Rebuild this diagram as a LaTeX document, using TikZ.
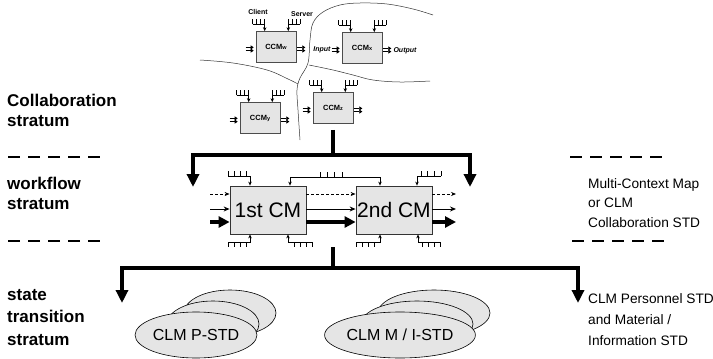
\documentclass[tikz,border=0pt]{standalone}
\usepackage{fontspec}
\setmainfont{Liberation Sans}
\usetikzlibrary{arrows.meta,calc,shapes.geometric}

\begin{document}
\begin{tikzpicture}[x=1pt,y=-1pt,
  stratlbl/.style={font=\bfseries\fontsize{17}{19.5}\selectfont, align=left, anchor=north west, inner sep=0},
  sidelbl/.style={font=\fontsize{13.7}{19.5}\selectfont, align=left, anchor=north west, inner sep=0},
  divider/.style={line width=1.8pt, dash pattern=on 12pt off 8pt},
  trunk/.style={line width=3.4pt},
  trunkarrow/.style={line width=3.4pt, -{Triangle[length=13pt,width=12pt]}},
  cmbox/.style={draw=black!80, line width=0.8pt, fill=gray!20, minimum width=76pt, minimum height=48pt, inner sep=0, font=\fontsize{21}{21}\selectfont},
  ccmbox/.style={draw=black!70, line width=0.6pt, fill=gray!20, minimum width=40pt, minimum height=31pt, inner sep=0, font=\bfseries\fontsize{7.5}{8}\selectfont},
  pin/.style={line width=0.6pt},
  pinarrow/.style={line width=0.7pt, -{Stealth[length=4pt,width=3.5pt]}},
  icon/.style={line width=1.3pt, -{Triangle[length=3pt,width=4pt]}},
  flowdash/.style={line width=0.8pt, dash pattern=on 3pt off 2pt, -{Stealth[length=5pt,width=4pt]}},
  flowthin/.style={line width=1pt, -{Stealth[length=6pt,width=5pt]}},
  flowthick/.style={line width=3.5pt, -{Triangle[length=11pt,width=11pt]}},
  ell/.style={ellipse, draw=black, line width=0.6pt, fill=gray!20, inner sep=0, font=\fontsize{16}{16}\selectfont},
  tinylbl/.style={font=\bfseries\fontsize{7}{7}\selectfont, inner sep=0},
  boundary/.style={line width=0.5pt, black!80},
  comb/.pic={\draw[pin] (0,0) -- (#1,0) foreach \t in {0,1,2,3}{ ({#1*\t/3},0) -- ({#1*\t/3},-5) };},
  dblarrow/.pic={\draw[icon] (0,-1.6) -- (8,-1.6); \draw[icon] (0,1.6) -- (8,1.6);}
]
\useasboundingbox (0,0) rectangle (713,359);

% ---------- stratum labels and dividers ----------
\node[stratlbl] (lcollab) at (7,94) {Collaboration\\stratum};
\node[stratlbl] (lwork) at (7,177) {workflow\\stratum};
\node[stratlbl, font=\bfseries\fontsize{17}{22.5}\selectfont] (lstate) at (7,289) {state\\transition\\stratum};
\draw[divider] (8,157) -- (100,157);
\draw[divider] (8,241) -- (100,241);
\draw[divider] (570,157) -- (662,157);
\draw[divider] (572,241) -- (664,241);
\node[sidelbl] (rwork) at (588,178) {Multi-Context Map\\or CLM\\Collaboration STD};
\node[sidelbl, font=\fontsize{13.7}{21}\selectfont] (rstate) at (588,293) {CLM Personnel STD\\and Material /\\Information STD};

% ---------- collaboration stratum ----------
\draw[boundary] plot[smooth, tension=0.6] coordinates {(433,15) (413,9) (387,4) (360,3) (340,5) (323,12) (313,23) (310,40) (308,63) (300,78) (297,90) (298,110) (300,140)};
\draw[boundary] plot[smooth, tension=0.6] coordinates {(200,60) (233,63) (267,70) (288,79) (298,84)};
\draw[boundary] plot[smooth, tension=0.6] coordinates {(309,65) (333,70) (353,75) (373,80) (400,82) (430,81)};

\node[ccmbox] (ccmw) at (276,47) {CCM{\fontsize{5.5}{6}\selectfont w}};
\node[ccmbox] (ccmx) at (362,48) {CCM{\fontsize{5.5}{6}\selectfont x}};
\node[ccmbox] (ccmy) at (260,118) {CCM{\fontsize{5.5}{6}\selectfont y}};
\node[ccmbox] (ccmz) at (333,108) {CCM{\fontsize{5.5}{6}\selectfont z}};

\foreach \b in {ccmw,ccmx,ccmy,ccmz}{
  \path (\b.north west) ++(-3,-7) pic {comb=12};
  \path (\b.north east) ++(-8,-7) pic {comb=12};
  \draw[pinarrow] ($(\b.north west)+(9,-7)$) -- ($(\b.north west)+(9,0)$);
  \draw[pinarrow] ($(\b.north east)+(-8,-7)$) -- ($(\b.north east)+(-8,0)$);
  \path (\b.west) ++(-10,2) pic {dblarrow};
  \path (\b.east) ++(1,2) pic {dblarrow};
}
\node[tinylbl] (client) at (258,12) {Client};
\node[tinylbl] (server) at (302,14) {Server};
\node[tinylbl, font=\bfseries\itshape\fontsize{7}{7}\selectfont] (input) at (322,50) {Input};
\node[tinylbl, font=\bfseries\itshape\fontsize{7}{7}\selectfont] (output) at (405,51) {Output};

% ---------- workflow stratum ----------
\node[cmbox] (cm1) at (268,210) {1st CM};
\node[cmbox] (cm2) at (394,210) {2nd CM};

\coordinate (tophub) at (333,155);
\coordinate (tl) at (193,187);
\coordinate (tr) at (470,187);
\draw[trunk] ([yshift=-6pt]ccmz.south) -- (tophub);
\draw[trunkarrow] (tophub) -| (tl);
\draw[trunkarrow] (tophub) -| (tr);

% inputs, links and outputs
\foreach \yy/\st in {194/flowdash,209/flowthin,222/flowthick}{
  \draw[\st] (210,\yy) -- (cm1.west |- 0,\yy);
  \draw[\st] (cm1.east |- 0,\yy) -- (cm2.west |- 0,\yy);
  \draw[\st] (cm2.east |- 0,\yy) -- (456,\yy);
}

% top pins
\path (228,176) pic {comb=18};
\draw[pinarrow] (228,176) -| (cm1.north -| 250,0);
\path (421,176) pic {comb=20};
\draw[pinarrow] (441,176) -| (cm2.north -| 417,0);
\draw[pin] (290,177) -- (380,177);
\path (320,177) pic {comb=22};
\draw[pinarrow] (290,177) -- (cm1.north -| 290,0);
\draw[pinarrow] (380,177) -- (cm2.north -| 380,0);

% bottom pins
\path (228,242) pic[yscale=-1] {comb=18};
\draw[pinarrow] (228,242) -| (cm1.south -| 250,0);
\path (294,242) pic[yscale=-1] {comb=18};
\draw[pinarrow] (312,242) -| (cm1.south -| 288,0);
\path (356,242) pic[yscale=-1] {comb=18};
\draw[pinarrow] (356,242) -| (cm2.south -| 380,0);
\path (422,242) pic[yscale=-1] {comb=18};
\draw[pinarrow] (440,242) -| (cm2.south -| 418,0);

% ---------- state transition stratum ----------
\coordinate (bothub) at (333,268);
\coordinate (bl) at (122,303);
\coordinate (br) at (578,303);
\draw[trunk] (333,247) -- (bothub);
\draw[trunkarrow] (bothub) -| (bl);
\draw[trunkarrow] (bothub) -| (br);

\node[ell, minimum width=92pt, minimum height=46pt] (p3) at (230,313) {};
\node[ell, minimum width=92pt, minimum height=46pt] (p2) at (213,324) {};
\node[ell, minimum width=92pt, minimum height=46pt] (p1) at (196,335) {CLM P-STD};

\node[ell, minimum width=112pt, minimum height=46pt] (m3) at (434,313) {};
\node[ell, minimum width=112pt, minimum height=46pt] (m2) at (417,324) {};
\node[ell, minimum width=112pt, minimum height=46pt] (m1) at (400,335) {CLM M / I-STD};

\end{tikzpicture}
\end{document}
